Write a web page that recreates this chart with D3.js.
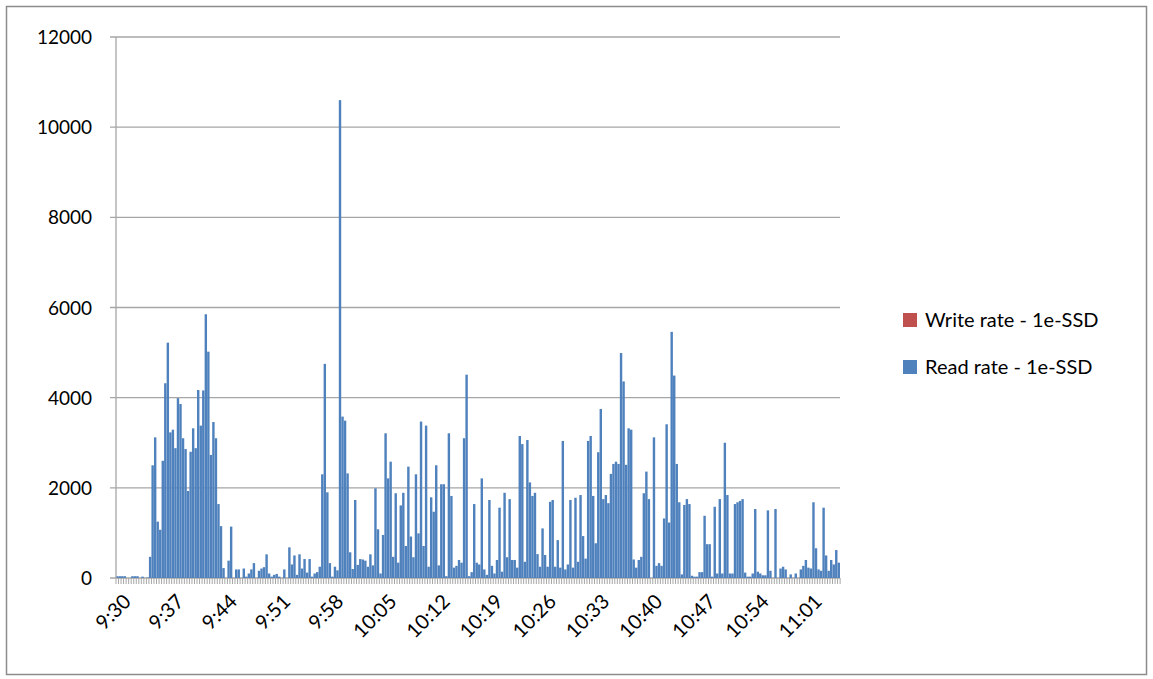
<!DOCTYPE html>
<html>
<head>
<meta charset="utf-8">
<script src="https://cdn.jsdelivr.net/npm/d3@7"></script>
<style>
  body { margin: 0; background: #fff; }
  svg text { font-family: Lato, "Open Sans", sans-serif; fill: #000; }
</style>
</head>
<body>
<svg id="chart" width="1153" height="679"></svg>
<script>
// read rate per 20 s sample, starting 9:30:00
const readRate = [
  40, 40, 40, 40, 0, 0, 40, 40, 40, 0, 30, 0,
  10, 470, 2500, 3120, 1250, 1070, 2600, 4320, 5220, 3230, 3290, 2880, 3990, 3860, 3100, 2860,
  1930, 2800, 3320, 2880, 4170, 3380, 4160, 5850, 5020, 2730, 3460, 3100, 1640, 1150, 220, 0, 385, 1140,
  0, 190, 190, 0, 210, 30, 100, 190, 330, 0, 160, 210, 240, 525, 100, 30, 70, 90, 30, 0, 190, 0,
  680, 300, 500, 70, 525, 210, 420, 120, 420, 30, 100, 130, 250, 2300, 4750, 1900, 330, 30, 250, 170,
  10600, 3580, 3490, 2320, 570, 200, 1730, 290, 420,
  410, 385, 250, 525, 280, 1990, 1080, 100, 955, 3210, 2210, 2580, 470, 1880, 340, 1610, 1890, 710,
  2470, 920, 460, 2300, 990, 3470, 710, 3380, 250, 1790, 1470, 2500, 280, 2080, 2080, 40, 3210, 1820,
  230, 270, 400, 340, 3100, 4510, 40, 130, 1640, 340, 300, 2210, 190, 70, 1730,
  270, 100, 400, 1560, 140, 1890, 460, 1750, 400, 400, 230, 3150, 2970, 360, 3060, 2120, 1820, 1890,
  530, 250, 1100, 510, 250, 1690, 1730, 250, 840, 230, 3040, 190, 300, 1730, 230, 1780, 360, 1840,
  930, 430, 3040, 3150, 1820, 770, 2790, 3750, 1750, 1840, 1660, 2310, 2530,
  2580, 2530, 4990, 4360, 2510, 3320, 3290, 410, 230, 400, 470, 1880, 2360, 1750, 0, 3120, 270, 330,
  270, 1320, 3410, 1230, 5460, 4490, 2530, 1680, 80, 1620, 1750, 1640, 50, 30, 30, 130, 130, 1380,
  750, 750, 30, 1580, 100, 1750, 100, 3000, 1840, 100, 100, 1640, 1680,
  1710, 1750, 120, 30, 30, 100, 1530, 140, 100, 60, 60, 1500, 160, 0, 1530, 0, 210, 250, 190, 0,
  80, 0, 100, 0, 190, 270, 400, 230, 210, 1680, 660, 190, 160, 1560, 500, 160, 400, 300, 620, 340
];
const yTicks = [0, 2000, 4000, 6000, 8000, 10000, 12000];
const seriesNames = ["Write rate - 1e-SSD", "Read rate - 1e-SSD"];
const seriesColors = ["#c0504d", "#4f81bd"];

// category labels: 9:30:00 plus 20 s per sample, one label every 7 minutes
const fmt = d3.timeFormat("%-H:%M");
const t0 = new Date(2012, 0, 1, 9, 30, 0);
const cats = readRate.map((v, i) => new Date(t0.getTime() + i * 20000));
const labelEvery = 21;

const svg = d3.select("#chart");
const margin = {top: 37, left: 116, right: 840, bottom: 578};

svg.append("rect")
    .attr("x", 6.5).attr("y", 6.5).attr("width", 1140).attr("height", 668)
    .attr("fill", "none").attr("stroke", "#8c8c8c").attr("stroke-width", 1.5);

let x = d3.scaleBand()
    .domain(d3.range(readRate.length))
    .range([margin.left, margin.right])
    .paddingInner(0.05);

let y = d3.scaleLinear()
    .domain([0, 12000])
    .range([margin.bottom, margin.top]);

// gridlines
svg.append("g").selectAll("line")
    .data(yTicks).enter().append("line")
    .attr("x1", margin.left - 6).attr("x2", margin.right)
    .attr("y1", d => y(d)).attr("y2", d => y(d))
    .attr("stroke", "#a6a6a6").attr("stroke-width", 1.3);

svg.append("g").selectAll("text")
    .data(yTicks).enter().append("text")
    .attr("x", 92).attr("y", d => y(d) + 7)
    .attr("text-anchor", "end")
    .style("font-size", "19px")
    .text(d => d);

// bars
svg.append("g").selectAll("rect")
    .data(readRate).enter().append("rect")
    .attr("x", (d, i) => x(i))
    .attr("width", x.bandwidth())
    .attr("y", d => y(d))
    .attr("height", d => margin.bottom - y(d))
    .attr("fill", seriesColors[1]);

// axes lines
svg.append("line")
    .attr("x1", margin.left).attr("x2", margin.left)
    .attr("y1", margin.top).attr("y2", margin.bottom)
    .attr("stroke", "#a6a6a6").attr("stroke-width", 1.3);

let step = x.step();
svg.append("g").selectAll("line")
    .data(d3.range(readRate.length + 1)).enter().append("line")
    .attr("x1", i => margin.left + i * step).attr("x2", i => margin.left + i * step)
    .attr("y1", margin.bottom).attr("y2", margin.bottom + 6)
    .attr("stroke", "#a6a6a6").attr("stroke-width", 1);

svg.append("g").selectAll("text")
    .data(cats.filter((d, i) => i % labelEvery === 0)).enter().append("text")
    .attr("transform", (d, i) => {
        let cx = x(i * labelEvery) + x.bandwidth() / 2 + 5;
        return "translate(" + cx + "," + (margin.bottom + 15) + ") rotate(-45)";
    })
    .attr("text-anchor", "end")
    .attr("dy", "0.7em")
    .style("font-size", "20px")
    .text(d => fmt(d));

// legend
let legend = svg.append("g").selectAll("g")
    .data(seriesNames).enter().append("g")
    .attr("transform", (d, i) => "translate(903," + (313 + i * 47) + ")");
legend.append("rect")
    .attr("width", 14).attr("height", 14)
    .attr("fill", (d, i) => seriesColors[i]);
legend.append("text")
    .attr("x", 22).attr("y", 14)
    .style("font-size", "20px")
    .text(d => d);
</script>
</body>
</html>
